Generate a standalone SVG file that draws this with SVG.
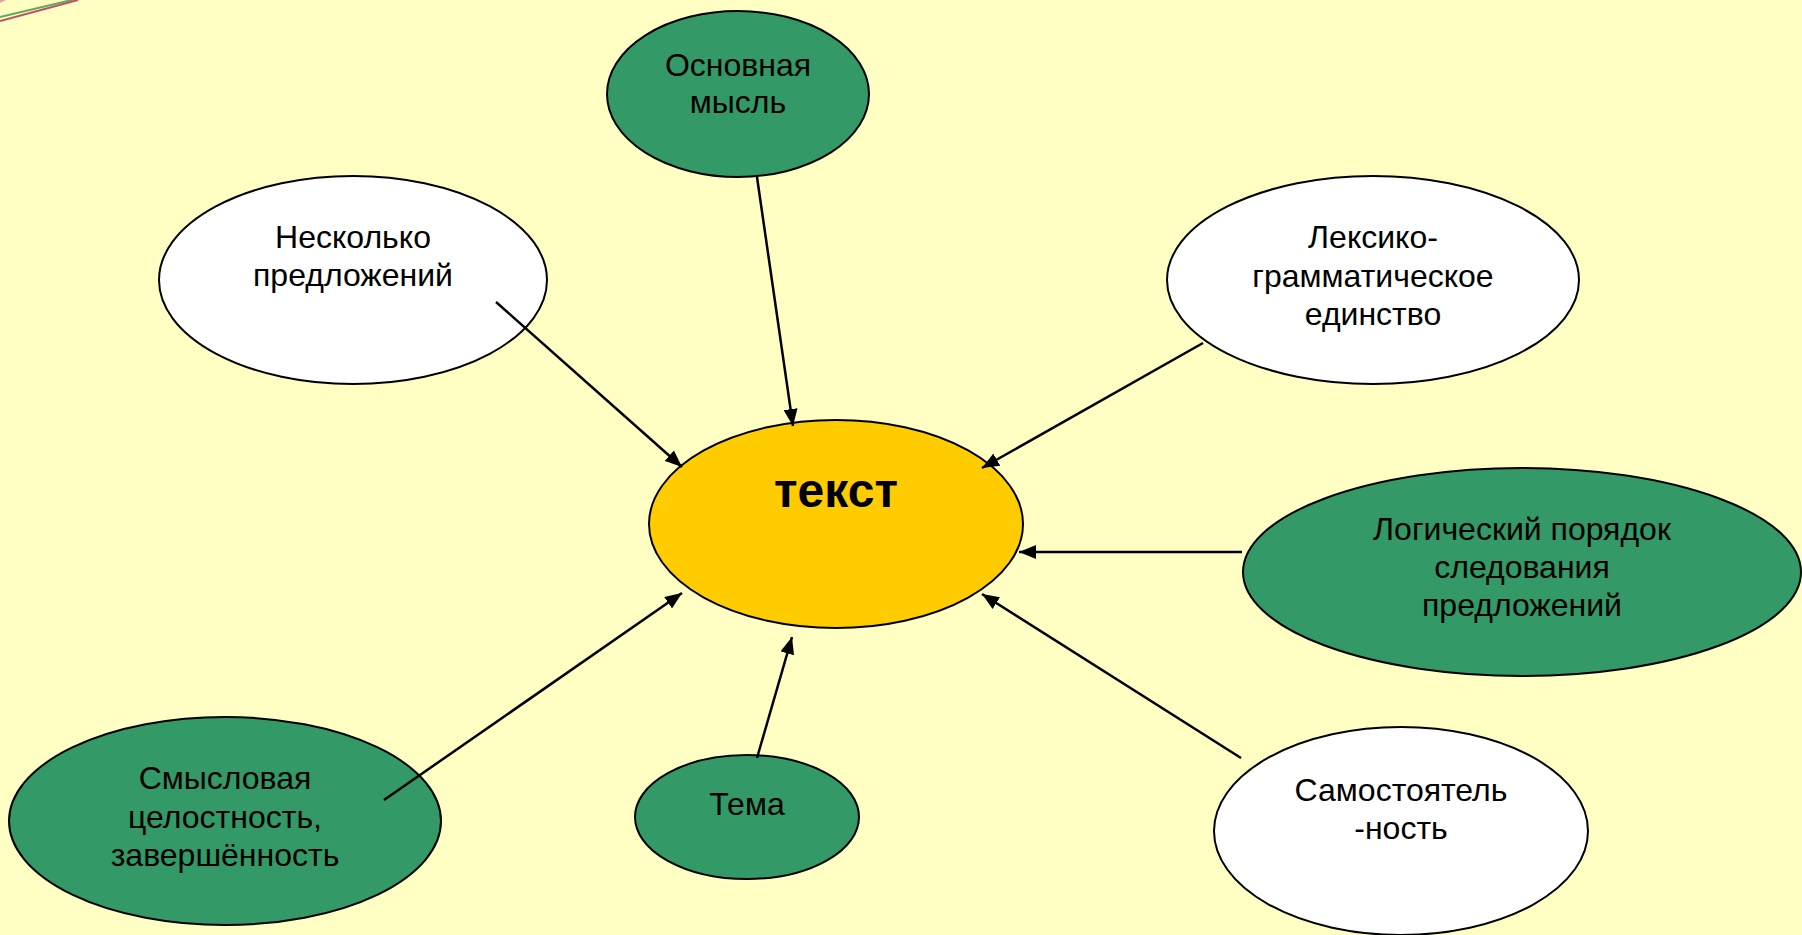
<svg xmlns="http://www.w3.org/2000/svg" width="1802" height="935" viewBox="0 0 1802 935">
<defs>
<style>
.bg{fill:#FFFEC3}
.n{stroke:#000;stroke-width:2}
.g{fill:#339966}
.w{fill:#FFFFFF}
.y{fill:#FFCC00}
.t{font-family:"Liberation Sans",Arial,sans-serif;font-size:32px;fill:#000;text-anchor:middle}
.tb{font-family:"Liberation Sans",Arial,sans-serif;font-size:48px;font-weight:bold;fill:#000;text-anchor:middle}
.c{stroke:#000;stroke-width:2.5;fill:none;marker-end:url(#ah)}
</style>
<marker id="ah" markerUnits="userSpaceOnUse" markerWidth="18" markerHeight="14" refX="17" refY="7" orient="auto">
<path d="M0,0 L17,7 L0,14 z" fill="#000"/>
</marker>
</defs>
<rect class="bg" x="0" y="0" width="1802" height="935"/>
<g id="decor">
<line x1="0" y1="17" x2="80" y2="-2" stroke="#5DAA5D" stroke-width="2"/>
<line x1="0" y1="21" x2="78" y2="0" stroke="#C0506A" stroke-width="2"/>
<path d="M0,0 L6,0 L0,3 z" fill="#E8A0A0"/>
</g>
<g id="node-main">
<ellipse class="n g" cx="738" cy="94" rx="131" ry="83"/>
<text class="t" x="738" y="76">Основная</text>
<text class="t" x="738" y="113">мысль</text>
</g>
<g id="node-sentences">
<ellipse class="n w" cx="353" cy="280" rx="194" ry="104"/>
<text class="t" x="353" y="248">Несколько</text>
<text class="t" x="353" y="286">предложений</text>
</g>
<g id="node-lexico">
<ellipse class="n w" cx="1373" cy="280" rx="206" ry="104"/>
<text class="t" x="1373" y="248">Лексико-</text>
<text class="t" x="1373" y="287">грамматическое</text>
<text class="t" x="1373" y="325">единство</text>
</g>
<g id="node-logic">
<ellipse class="n g" cx="1522" cy="572" rx="279" ry="104"/>
<text class="t" x="1522" y="540">Логический порядок</text>
<text class="t" x="1522" y="578">следования</text>
<text class="t" x="1522" y="616">предложений</text>
</g>
<g id="node-independence">
<ellipse class="n w" cx="1401" cy="831" rx="187" ry="104"/>
<text class="t" x="1401" y="801">Самостоятель</text>
<text class="t" x="1401" y="839">-ность</text>
</g>
<g id="node-theme">
<ellipse class="n g" cx="747" cy="817" rx="112" ry="62"/>
<text class="t" x="747" y="815">Тема</text>
</g>
<g id="node-integrity">
<ellipse class="n g" cx="225" cy="821" rx="216" ry="104"/>
<text class="t" x="225" y="789">Смысловая</text>
<text class="t" x="225" y="828">целостность,</text>
<text class="t" x="225" y="866">завершённость</text>
</g>
<g id="node-text">
<ellipse class="n y" cx="836" cy="524" rx="187" ry="104"/>
<text class="tb" x="836" y="507">текст</text>
</g>
<g id="connectors">
<line class="c" x1="757" y1="177" x2="793" y2="426"/>
<line class="c" x1="496" y1="302" x2="682" y2="467"/>
<line class="c" x1="1203" y1="343" x2="982" y2="468"/>
<line class="c" x1="1242" y1="552" x2="1019" y2="552"/>
<line class="c" x1="1241" y1="758" x2="982" y2="594"/>
<line class="c" x1="757" y1="758" x2="792" y2="637"/>
<line class="c" x1="384" y1="800" x2="682" y2="593"/>
</g>
</svg>
